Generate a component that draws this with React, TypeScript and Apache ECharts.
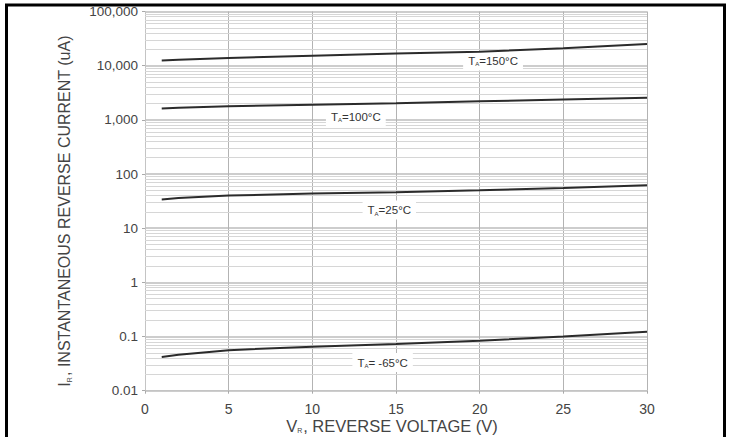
import React, { useEffect, useRef } from "react";
import * as echarts from "echarts";

const voltages = [1, 2, 5, 10, 15, 20, 25, 30];
const current150 = [12500, 12900, 13900, 15300, 16700, 18000, 21000, 25000];
const current100 = [1620, 1680, 1780, 1900, 2030, 2200, 2370, 2550];
const current25 = [34, 36, 40, 43.5, 46, 50, 55, 62];
const currentMinus65 = [0.042, 0.046, 0.056, 0.065, 0.073, 0.084, 0.1, 0.122];

const seriesNames = ["TA=150°C", "TA=100°C", "TA=25°C", "TA=-65°C"];
const labelTails = ["=150°C", "=100°C", "=25°C", "= -65°C"];
const labelPositions: [number, number][] = [
  [20.8, 12200],
  [12.6, 1150],
  [14.6, 21.6],
  [14.2, 0.0331],
];

const yTickLabels = ["0.01", "0.1", "1", "10", "100", "1,000", "10,000", "100,000"];
const decades = [0.01, 0.1, 1, 10, 100, 1000, 10000];
const minorMultipliers = [2, 3, 4, 5, 6, 7, 8, 9];

const FONT = "'Liberation Sans', Arial, Helvetica, sans-serif";

export default function App() {
  const ref = useRef<HTMLDivElement>(null);
  useEffect(() => {
    document.body.style.margin = "0";
    const chart = echarts.init(ref.current!, null, { renderer: "svg" });
    const curves = [current150, current100, current25, currentMinus65];
    const minorLines: { yAxis: number }[] = [];
    decades.forEach((d) => minorMultipliers.forEach((m) => minorLines.push({ yAxis: d * m })));

    const curveSeries = curves.map((vals, i) => ({
      name: seriesNames[i],
      type: "line",
      z: 5,
      showSymbol: false,
      symbol: "none",
      smooth: false,
      lineStyle: { color: "#2b2b2b", width: 2 },
      data: voltages.map((v, j) => [v, vals[j]]),
      markPoint: {
        silent: true,
        symbol: "rect",
        symbolSize: 1,
        itemStyle: { color: "rgba(0,0,0,0)" },
        label: {
          show: true,
          position: "inside",
          backgroundColor: "#ffffff",
          padding: [3, 5, 3, 5],
          formatter: "{t|T}{s|A}{t|" + labelTails[i] + "}",
          rich: {
            t: { fontSize: 11.5, color: "#333", fontFamily: FONT },
            s: { fontSize: 6, color: "#333", fontFamily: FONT, padding: [7, 0, 0, 0] },
          },
        },
        data: [{ coord: labelPositions[i] }],
      },
    }));

    chart.setOption({
      animation: false,
      grid: { left: 145, right: 83, top: 11.5, bottom: 46.3, containLabel: false },
      xAxis: {
        type: "value",
        min: 0,
        max: 30,
        interval: 5,
        axisLine: { show: true, lineStyle: { color: "#c4c4c4", width: 1 } },
        axisTick: { show: true, length: 3, lineStyle: { color: "#aaa" } },
        axisLabel: { color: "#444", fontSize: 14, margin: 11, fontFamily: FONT },
        splitLine: { show: true, lineStyle: { color: "#b3b3b3", width: 1 } },
      },
      yAxis: {
        type: "log",
        logBase: 10,
        min: 0.01,
        max: 100000,
        axisLine: { show: true, lineStyle: { color: "#c4c4c4", width: 1 } },
        axisTick: { show: true, length: 3, lineStyle: { color: "#aaa" } },
        axisLabel: {
          color: "#444",
          fontSize: 13.5,
          margin: 7,
          fontFamily: FONT,
          formatter: (v: number) => yTickLabels[Math.round(Math.log10(v)) + 2] ?? "",
        },
        splitLine: { show: true, lineStyle: { color: "#cdcdcd", width: 2 } },
      },
      graphic: [
        {
          type: "rect",
          shape: { x: 6.5, y: 5, width: 718, height: 460 },
          style: { fill: "none", stroke: "#000", lineWidth: 3 },
          z: 100,
          silent: true,
        },
        {
          type: "text",
          x: 64.5,
          y: 211,
          rotation: Math.PI / 2,
          silent: true,
          style: {
            text: "{m|I}{s|R}{m|, INSTANTANEOUS REVERSE CURRENT (uA)}",
            align: "center",
            verticalAlign: "middle",
            rich: {
              m: { fontSize: 16, fill: "#444", fontFamily: FONT },
              s: { fontSize: 7, fill: "#444", fontFamily: FONT, padding: [9, 1, 0, 0] },
            },
          },
        },
        {
          type: "text",
          x: 392,
          y: 426,
          silent: true,
          style: {
            text: "{m|V}{s|R}{m|, REVERSE VOLTAGE (V)}",
            align: "center",
            verticalAlign: "middle",
            rich: {
              m: { fontSize: 16.5, fill: "#444", fontFamily: FONT },
              s: { fontSize: 7, fill: "#444", fontFamily: FONT, padding: [8, 1, 0, 0] },
            },
          },
        },
      ],
      series: [
        {
          type: "line",
          z: 1,
          silent: true,
          showSymbol: false,
          symbol: "none",
          lineStyle: { opacity: 0 },
          data: [[0, 1]],
          markLine: {
            silent: true,
            symbol: ["none", "none"],
            label: { show: false },
            lineStyle: { color: "#d6d6d6", width: 1, type: "solid" },
            data: minorLines,
          },
        },
        ...curveSeries,
      ],
    });
    return () => chart.dispose();
  }, []);
  return <div ref={ref} style={{ width: 730, height: 437 }} />;
}
